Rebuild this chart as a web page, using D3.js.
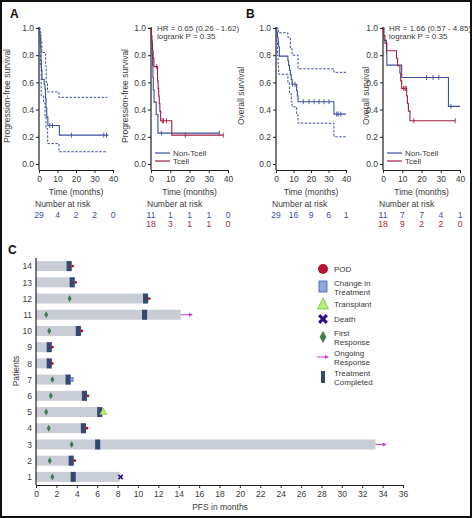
<!DOCTYPE html>
<html><head><meta charset="utf-8">
<script src="https://cdn.jsdelivr.net/npm/d3@7"></script>
<style>
body{margin:0;background:#fff;}
svg{display:block;font-family:"Liberation Sans",Arial,sans-serif;}
</style></head>
<body><svg id="c" width="472" height="518"></svg>
<script>
// ---------- Data: KM curves [time(months), survival] ----------
const pfsAll = [[0,1],[0.3,0.966],[0.6,0.931],[0.9,0.862],[1.1,0.759],[1.3,0.69],[1.6,0.621],[2.8,0.586],[3.2,0.552],[3.5,0.483],[3.8,0.414],[4.2,0.345],[4.8,0.283],[11,0.212]];
const pfsAllEnd = 37.5;
const pfsAllCensor = [5.8,7.3,17.6,35,36.5];
const pfsAllUpper = [[0,1],[0.6,0.97],[1.0,0.9],[1.5,0.82],[3.6,0.72],[3.9,0.6],[4.6,0.53],[10.8,0.49]];
const pfsAllLower = [[0,1],[0.3,0.88],[0.7,0.72],[1.2,0.5],[2.5,0.45],[3.3,0.35],[3.8,0.26],[4.7,0.15],[10.8,0.09]];
const pfsNonT = [[0,1],[0.2,0.909],[0.5,0.818],[0.8,0.727],[1.0,0.636],[1.2,0.545],[1.6,0.455],[2.7,0.364],[3.6,0.227]];
const pfsNonTEnd = 35.5;
const pfsNonTCensor = [5.5,35.5];
const pfsT = [[0,1],[0.2,0.944],[0.5,0.889],[0.8,0.833],[1.1,0.778],[1.5,0.716],[3.4,0.611],[3.7,0.556],[4.0,0.5],[4.3,0.444],[4.6,0.389],[5.0,0.318],[10.8,0.212]];
const pfsTEnd = 37.5;
const pfsTCensor = [3.0,5.8,6.5,8,17.8,37.5];

const osAll = [[0,1],[0.4,0.966],[0.8,0.931],[1.2,0.897],[1.5,0.862],[1.9,0.793],[6.8,0.759],[7.2,0.724],[7.7,0.69],[8.2,0.655],[8.7,0.621],[9.2,0.586],[11.8,0.54],[12.2,0.5],[12.6,0.458],[33.1,0.367]];
const osAllEnd = 40;
const osAllCensor = [9.5,10.9,15.6,18.9,21.8,24.6,27.4,30.3,34.7,35.5,37];
const osAllUpper = [[0,1],[1.3,0.965],[6.8,0.93],[8.2,0.85],[9.2,0.8],[12.6,0.7],[33.1,0.674]];
const osAllLower = [[0,1],[0.4,0.9],[0.8,0.8],[1.2,0.72],[1.5,0.66],[6.8,0.6],[7.7,0.52],[8.7,0.46],[9.2,0.42],[11.8,0.36],[12.6,0.3],[33.1,0.2]];
const osNonT = [[0,1],[0.5,0.909],[1.8,0.818],[2.0,0.727],[9.7,0.636],[34,0.424]];
const osNonTEnd = 40;
const osNonTCensor = [22.6,26,29,35.3];
const osT = [[0,1],[0.3,0.944],[1.0,0.889],[2.0,0.833],[7.0,0.778],[7.6,0.722],[8.8,0.667],[9.2,0.611],[9.7,0.556],[12.3,0.5],[12.7,0.444],[13.2,0.389],[14.0,0.318]];
const osTEnd = 37.5;
const osTCensor = [10.7,11.5,12.0,16,37.5];

// Number at risk
const riskTimes = [0,10,20,30,40];
const riskPfsAll = [29,4,2,2,0];
const riskPfsNonT = [11,1,1,1,0];
const riskPfsT = [18,3,1,1,0];
const riskOsAll = [29,16,9,6,1];
const riskOsNonT = [11,7,7,4,1];
const riskOsT = [18,9,2,2,0];

const yTicks = [0,0.2,0.4,0.6,0.8,1.0];
const xTicksKM = [0,10,20,30,40];

// ---------- Panel C data ----------
const patients = [1,2,3,4,5,6,7,8,9,10,11,12,13,14];
const pfsMonths = [8.2,3.7,33.3,4.9,6.5,5.0,3.4,1.55,1.55,4.45,14.2,11.0,3.8,3.5];
const treatmentEnd = [3.9,3.7,6.3,4.9,6.5,5.0,3.4,1.55,1.55,4.4,10.9,11.0,3.8,3.5];
const firstResponse = [1.6,1.35,3.5,1.25,1.0,1.45,1.6,null,null,1.3,1.0,3.3,null,null];
const eventType = ["Death","POD",null,"POD","Transplant","POD","Change","POD","POD","POD",null,"POD","POD","POD"];
const eventMonth = [8.3,3.8,null,5.0,6.6,5.1,3.5,1.6,1.6,4.5,null,11.1,3.9,3.6];
const ongoingEnd = [null,null,34.4,null,null,null,null,null,null,null,15.4,null,null,null];
const xTicksC = d3.range(0,37,2);

const BLUE = "#3b4f9e", RED = "#a31f3c", CIBLUE = "#3b4f9e";
const svg = d3.select("#c");
const FONT = 8.5;
const TXT = "#3a3a3a";

// outer frame
svg.append("rect").attr("x",1).attr("y",1).attr("width",470).attr("height",516)
  .attr("fill","none").attr("stroke","#111").attr("stroke-width",2);

function kmPanel(opts){
  const g = svg.append("g");
  const x = d3.scaleLinear().domain([0,40]).range([opts.x0, opts.x1]);
  const y = d3.scaleLinear().domain([0,1]).range([164,28]);
  const ya = d3.axisLeft(y).tickValues(yTicks).tickFormat(d3.format(".1f")).tickSize(3).tickSizeOuter(0);
  const yg = g.append("g").attr("transform",`translate(${opts.x0},0)`).call(ya);
  yg.select(".domain").remove();
  g.append("line").attr("x1",opts.x0).attr("x2",opts.x0).attr("y1",27).attr("y2",170).attr("stroke","#222").attr("stroke-width",1.2);
  const xa = d3.axisBottom(x).tickValues(xTicksKM).tickSize(3).tickSizeOuter(0);
  const xg = g.append("g").attr("transform",`translate(0,170)`).call(xa);
  xg.select(".domain").attr("stroke","#222").attr("stroke-width",1.2);
  [yg,xg].forEach(a=>{a.selectAll("text").attr("font-size",FONT).attr("fill",TXT).attr("font-family",null);
    a.selectAll(".tick line").attr("stroke","#222");});
  yg.selectAll("text").attr("x",-5);
  xg.selectAll("text").attr("y",6);
  g.append("text").attr("transform",`translate(${opts.yl},96) rotate(-90)`).attr("text-anchor","middle")
    .attr("font-size",FONT).attr("fill",TXT).text(opts.ylabel);
  g.append("text").attr("x",(opts.x0+opts.x1)/2).attr("y",195).attr("text-anchor","middle")
    .attr("font-size",FONT).attr("fill",TXT).text("Time (months)");
  g.append("text").attr("x",opts.x0-4).attr("y",207).attr("font-size",FONT).attr("fill",TXT).text("Number at risk");
  opts.risk.forEach((r,ri)=>{
    g.selectAll(null).data(r.vals).enter().append("text")
      .attr("x",(d,i)=>x(riskTimes[i])).attr("y",218+ri*9).attr("text-anchor","middle")
      .attr("font-size",FONT).attr("fill",r.color).text(d=>d);
  });
  const line = d3.line().x(d=>x(d[0])).y(d=>y(d[1])).curve(d3.curveStepAfter);
  opts.curves.forEach(c=>{
    const pts = c.data.concat([[c.end, c.data[c.data.length-1][1]]]);
    g.append("path").attr("d",line(pts)).attr("fill","none").attr("stroke",c.color)
      .attr("stroke-width",c.dash?1:1.1).attr("stroke-dasharray",c.dash?"2.5,1.5":null);
    if(c.censor){
      c.censor.forEach(t=>{
        let s = c.data[0][1];
        c.data.forEach(p=>{ if(p[0]<=t) s=p[1]; });
        g.append("line").attr("x1",x(t)).attr("x2",x(t)).attr("y1",y(s)-2.5).attr("y2",y(s)+2.5)
          .attr("stroke",c.color).attr("stroke-width",0.9);
      });
    }
  });
  if(opts.hr){
    g.append("text").attr("x",opts.x0+6).attr("y",31).attr("font-size",8).attr("fill",TXT).text(opts.hr[0]);
    g.append("text").attr("x",opts.x0+6).attr("y",39).attr("font-size",8).attr("fill",TXT).text(opts.hr[1]);
  }
  if(opts.legend){
    [["Non-Tcell",BLUE],["Tcell",RED]].forEach((l,i)=>{
      g.append("line").attr("x1",opts.x0+4).attr("x2",opts.x0+19).attr("y1",153+i*8).attr("y2",153+i*8)
        .attr("stroke",l[1]).attr("stroke-width",1.2);
      g.append("text").attr("x",opts.x0+22).attr("y",156+i*8).attr("font-size",8).attr("fill",TXT).text(l[0]);
    });
  }
}

kmPanel({x0:39,x1:113,yl:10,ylabel:"Progression-free survival",
  risk:[{vals:riskPfsAll,color:BLUE}],
  curves:[{data:pfsAllUpper,end:37,color:CIBLUE,dash:true},{data:pfsAllLower,end:37,color:CIBLUE,dash:true},
          {data:pfsAll,end:pfsAllEnd,color:BLUE,censor:pfsAllCensor}]});
kmPanel({x0:151,x1:228,yl:128,ylabel:"Progression-free survival",
  risk:[{vals:riskPfsNonT,color:BLUE},{vals:riskPfsT,color:RED}],
  hr:["HR = 0.65 (0.26 - 1.62)","logrank P = 0.35"],legend:true,
  curves:[{data:pfsNonT,end:pfsNonTEnd,color:BLUE,censor:pfsNonTCensor},{data:pfsT,end:pfsTEnd,color:RED,censor:pfsTCensor}]});
kmPanel({x0:276,x1:346,yl:244,ylabel:"Overall survival",
  risk:[{vals:riskOsAll,color:BLUE}],
  curves:[{data:osAllUpper,end:40,color:CIBLUE,dash:true},{data:osAllLower,end:40,color:CIBLUE,dash:true},
          {data:osAll,end:osAllEnd,color:BLUE,censor:osAllCensor}]});
kmPanel({x0:383,x1:460,yl:369,ylabel:"Overall survival",
  risk:[{vals:riskOsNonT,color:BLUE},{vals:riskOsT,color:RED}],
  hr:["HR = 1.66 (0.57 - 4.85)","logrank P = 0.35"],legend:true,
  curves:[{data:osNonT,end:osNonTEnd,color:BLUE,censor:osNonTCensor},{data:osT,end:osTEnd,color:RED,censor:osTCensor}]});

[["A",10,18],["B",246,18],["C",8,254]].forEach(l=>{
  svg.append("text").attr("x",l[1]).attr("y",l[2]).attr("font-size",12).attr("font-weight","bold")
    .attr("fill","#111").text(l[0]);
});

// ---------- Panel C ----------
const gc = svg.append("g");
const xc = d3.scaleLinear().domain([0,36]).range([36,403]);
const yc = d3.scalePoint().domain(patients.slice().reverse()).range([258,485]).padding(0.5);
const BH = 10;
gc.selectAll(".bar").data(patients).enter().append("rect")
  .attr("x",xc(0)).attr("y",d=>yc(d)-BH/2).attr("width",(d,i)=>xc(pfsMonths[i])-xc(0)).attr("height",BH)
  .attr("fill","#c9ced6");
gc.selectAll(".tc").data(patients).enter().append("rect")
  .attr("x",(d,i)=>xc(treatmentEnd[i]-0.5)).attr("y",d=>yc(d)-BH/2).attr("width",(d,i)=>xc(treatmentEnd[i])-xc(treatmentEnd[i]-0.5)).attr("height",BH)
  .attr("fill","#34496e");
patients.forEach((p,i)=>{
  if(firstResponse[i]==null) return;
  gc.append("path").attr("d",d3.symbol(d3.symbolDiamond,14)()).attr("transform",`translate(${xc(firstResponse[i])},${yc(p)})`)
    .attr("fill","#3f7d4f");
});
patients.forEach((p,i)=>{
  if(ongoingEnd[i]==null) return;
  const x1 = xc(pfsMonths[i]), x2 = xc(ongoingEnd[i]);
  gc.append("line").attr("x1",x1).attr("x2",x2-3).attr("y1",yc(p)).attr("y2",yc(p)).attr("stroke","#c83cc8").attr("stroke-width",1);
  gc.append("path").attr("d",`M${x2},${yc(p)} L${x2-4},${yc(p)-2} L${x2-4},${yc(p)+2} Z`).attr("fill","#c83cc8");
});
patients.forEach((p,i)=>{
  const t = eventType[i]; if(!t) return;
  const cx = xc(eventMonth[i]), cy = yc(p);
  if(t==="POD") gc.append("circle").attr("cx",cx).attr("cy",cy).attr("r",1.4).attr("fill","#b0102a");
  if(t==="Change") gc.append("rect").attr("x",cx-1.5).attr("y",cy-2).attr("width",3).attr("height",4).attr("fill","#8ea6e0").attr("stroke","#4058b0").attr("stroke-width",0.6);
  if(t==="Transplant") gc.append("path").attr("d",`M${cx},${cy-4} L${cx+3.5},${cy+2.5} L${cx-3.5},${cy+2.5} Z`).attr("fill","#b3f07a").attr("stroke","#78bf3e").attr("stroke-width",0.6);
  if(t==="Death") gc.append("path").attr("d",d3.symbol(d3.symbolX,14)()).attr("transform",`translate(${cx},${cy})`).attr("stroke","#2b0a8f").attr("stroke-width",1.6);
});
const xca = d3.axisBottom(xc).tickValues(xTicksC).tickSize(3).tickSizeOuter(0);
const xcg = gc.append("g").attr("transform","translate(0,485)").call(xca);
xcg.select(".domain").attr("stroke","#222").attr("stroke-width",1.2);
const yca = d3.axisLeft(yc).tickSize(0);
const ycg = gc.append("g").attr("transform","translate(36,0)").call(yca);
ycg.select(".domain").remove();
gc.append("line").attr("x1",36).attr("x2",36).attr("y1",258).attr("y2",485).attr("stroke","#222").attr("stroke-width",1.2);
[xcg,ycg].forEach(a=>{a.selectAll("text").attr("font-size",8.5).attr("fill",TXT).attr("font-family",null);a.selectAll(".tick line").attr("stroke","#222");});
ycg.selectAll("text").attr("x",-4);
xcg.selectAll("text").attr("y",6);
gc.append("text").attr("x",220).attr("y",510).attr("text-anchor","middle").attr("font-size",8.5).attr("fill",TXT).text("PFS in months");
gc.append("text").attr("transform","translate(19,371) rotate(-90)").attr("text-anchor","middle").attr("font-size",8.5).attr("fill",TXT).text("Patients");

const LX = 323, TX = 334;
const lg = gc.append("g");
lg.append("circle").attr("cx",LX).attr("cy",269).attr("r",5).attr("fill","#b5122b");
lg.append("rect").attr("x",LX-4).attr("y",281).attr("width",8).attr("height",11).attr("fill","#8ea6e0").attr("stroke","#4058b0").attr("stroke-width",0.8);
lg.append("path").attr("d",`M${LX},${298} L${LX+5.5},${309} L${LX-5.5},${309} Z`).attr("fill","#b3f07a").attr("stroke","#78bf3e").attr("stroke-width",0.8);
lg.append("path").attr("d",d3.symbol(d3.symbolX,40)()).attr("transform",`translate(${LX},319)`).attr("stroke","#2b0a8f").attr("stroke-width",3);
lg.append("path").attr("d",d3.symbol(d3.symbolDiamond,40)()).attr("transform",`translate(${LX},337)`).attr("fill","#3f7d4f");
lg.append("line").attr("x1",LX-6).attr("x2",LX+3).attr("y1",357).attr("y2",357).attr("stroke","#c83cc8").attr("stroke-width",1);
lg.append("path").attr("d",`M${LX+6},357 L${LX+2},355 L${LX+2},359 Z`).attr("fill","#c83cc8");
lg.append("rect").attr("x",LX-2).attr("y",371).attr("width",4).attr("height",12).attr("fill","#34496e");
const legText = [["POD",272],["Change in",286],["Treatment",294.5],["Transplant",307],["Death",322],["First",336],["Response",344.5],["Ongoing",356],["Response",364.5],["Treatment",376],["Completed",384.5]];
legText.forEach(t=>lg.append("text").attr("x",TX).attr("y",t[1]).attr("font-size",8).attr("fill",TXT).text(t[0]));
</script></body></html>
